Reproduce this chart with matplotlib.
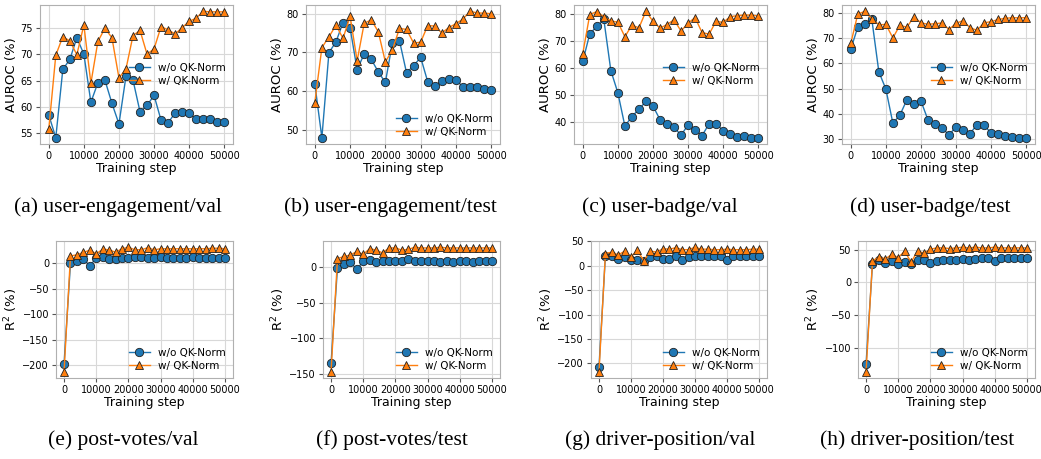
import matplotlib
matplotlib.use("Agg")
import matplotlib.pyplot as plt
import numpy as np

steps = list(range(0, 50001, 2000))

a_wo = [58.5, 54.2, 67.1, 69.0, 73.1, 70.0, 60.9, 64.6, 65.1, 60.7, 56.8, 65.8, 65.1, 59.1, 60.3, 62.2, 57.5, 57.0, 58.9, 59.1, 58.8, 57.7, 57.8, 57.7, 57.1, 57.1]
a_w = [55.8, 69.8, 73.3, 72.5, 69.9, 75.5, 64.5, 72.4, 74.9, 73.1, 65.5, 67.2, 73.5, 74.5, 70.0, 71.0, 75.2, 74.6, 73.8, 75.0, 76.2, 76.8, 78.1, 78.0, 78.0, 78.0]

b_wo = [61.8, 47.9, 69.9, 72.7, 77.7, 76.3, 65.5, 69.6, 68.2, 64.9, 62.2, 72.5, 73.0, 64.7, 66.5, 68.7, 62.4, 61.2, 62.5, 63.0, 62.8, 61.1, 61.1, 61.1, 60.4, 60.3]
b_w = [57.0, 71.2, 74.0, 77.0, 73.6, 79.3, 67.8, 77.5, 78.4, 75.3, 67.5, 70.6, 76.2, 75.9, 72.4, 72.6, 76.9, 76.8, 75.0, 76.4, 77.4, 78.6, 80.6, 80.2, 80.1, 80.0]

c_wo = [62.5, 72.7, 75.4, 78.0, 59.1, 50.9, 38.6, 42.1, 44.8, 47.7, 46.0, 41.0, 39.2, 38.2, 35.2, 39.0, 37.2, 35.1, 39.4, 39.5, 36.9, 35.7, 34.7, 35.0, 34.3, 34.3]
c_w = [65.4, 79.8, 80.9, 79.0, 77.4, 77.0, 71.6, 75.9, 74.9, 81.0, 77.3, 74.8, 76.1, 77.9, 73.7, 76.6, 78.7, 73.1, 72.6, 77.3, 76.9, 79.0, 79.4, 79.6, 79.6, 79.3]

d_wo = [65.5, 74.3, 75.5, 77.3, 56.6, 49.8, 36.3, 39.5, 45.6, 44.0, 45.1, 37.6, 36.0, 34.4, 31.7, 34.9, 33.7, 32.2, 35.8, 35.6, 32.3, 32.0, 31.1, 30.9, 30.6, 30.6]
d_w = [67.8, 79.4, 80.5, 77.5, 75.2, 75.3, 70.0, 75.0, 74.2, 78.4, 75.9, 75.4, 75.6, 75.9, 73.3, 75.8, 76.8, 74.0, 73.0, 76.0, 76.4, 77.3, 77.7, 78.0, 77.9, 78.0]

e_wo = [-197, 0, 5, 8, -4, 10, 12, 9, 9, 10, 10, 12, 12, 10, 10, 12, 10, 10, 10, 10, 12, 10, 10, 10, 10, 10]
e_w = [-213, 15, 17, 22, 26, 19, 28, 27, 22, 29, 32, 27, 27, 31, 27, 29, 29, 29, 29, 29, 29, 29, 29, 30, 30, 29]

f_wo = [-135, -1, 5, 7, -3, 8, 10, 7, 8, 9, 8, 9, 11, 9, 9, 9, 8, 7, 8, 7, 9, 8, 7, 8, 8, 8]
f_w = [-147, 12, 15, 17, 22, 18, 26, 24, 20, 27, 27, 24, 25, 28, 27, 27, 27, 28, 27, 27, 27, 27, 27, 27, 27, 27]

g_wo = [-207, 20, 20, 13, 19, 12, 12, 9, 19, 20, 14, 14, 20, 12, 19, 20, 20, 20, 20, 20, 12, 20, 20, 20, 20, 20]
g_w = [-217, 25, 28, 22, 30, 18, 32, 10, 30, 28, 35, 34, 37, 33, 33, 38, 34, 34, 33, 33, 34, 33, 33, 33, 34, 34]

h_wo = [-125, 28, 35, 30, 33, 29, 31, 29, 35, 35, 30, 33, 35, 34, 35, 36, 35, 36, 37, 37, 33, 37, 37, 37, 37, 37]
h_w = [-137, 33, 39, 36, 43, 38, 48, 31, 48, 45, 51, 53, 53, 52, 53, 54, 53, 54, 53, 53, 54, 53, 53, 53, 53, 53]

captions = ["(a) user-engagement/val", "(b) user-engagement/test", "(c) user-badge/val", "(d) user-badge/test",
            "(e) post-votes/val", "(f) post-votes/test", "(g) driver-position/val", "(h) driver-position/test"]
ylabels = ["AUROC (%)"] * 4 + ["R$^2$ (%)"] * 4
series = [(a_wo, a_w), (b_wo, b_w), (c_wo, c_w), (d_wo, d_w),
          (e_wo, e_w), (f_wo, f_w), (g_wo, g_w), (h_wo, h_w)]
legend_locs = ["center right", "lower right", "center right", "center right",
               "lower right", "lower right", "lower right", "lower right"]

W, H = 1041, 459
fig = plt.figure(figsize=(W / 100, H / 100), dpi=100)

# pixel boxes (left, right, top, bottom)
boxes = [(40, 233, 5, 144), (306, 500, 5, 144), (574, 767, 5, 144), (842, 1035, 5, 144),
         (56, 233, 241, 378), (323, 500, 241, 378), (591, 767, 241, 378), (858, 1035, 241, 378)]
cap_x = [118, 390, 660, 930, 123, 392, 660, 917]
cap_y = [207, 440]

spine_col = "#b0b0b0"
for i, (bx, (wo, w)) in enumerate(zip(boxes, series)):
    l, r, t, b = bx
    ax = fig.add_axes([l / W, 1 - b / H, (r - l) / W, (b - t) / H])
    ax.plot(steps, wo, "-o", color="#1f77b4", markersize=6, markeredgecolor="#222222",
            markeredgewidth=0.6, linewidth=1.0, label="w/o QK-Norm", zorder=3)
    ax.plot(steps, w, "-^", color="#ff7f0e", markersize=6, markeredgecolor="#222222",
            markeredgewidth=0.6, linewidth=1.0, label="w/ QK-Norm", zorder=3)
    ax.grid(True, color="#d8d8d8", linewidth=0.8)
    ax.set_axisbelow(True)
    for s in ax.spines.values():
        s.set_color(spine_col)
    ax.tick_params(labelsize=7, length=3, width=0.8, color="#555555", pad=2)
    ax.set_xticks([0, 10000, 20000, 30000, 40000, 50000])
    ax.set_xlabel("Training step", fontsize=9, labelpad=1)
    ax.set_ylabel(ylabels[i], fontsize=9.5, labelpad=2)
    ax.legend(loc=legend_locs[i], frameon=False, fontsize=7.5, handlelength=2.0,
              borderaxespad=0.3, labelspacing=0.3)
    row = 0 if i < 4 else 1
    fig.text(cap_x[i] / W, 1 - cap_y[row] / H, captions[i], ha="center", va="center",
             fontsize=15.5, family="Liberation Serif")

fig.savefig("out.png", dpi=100)
